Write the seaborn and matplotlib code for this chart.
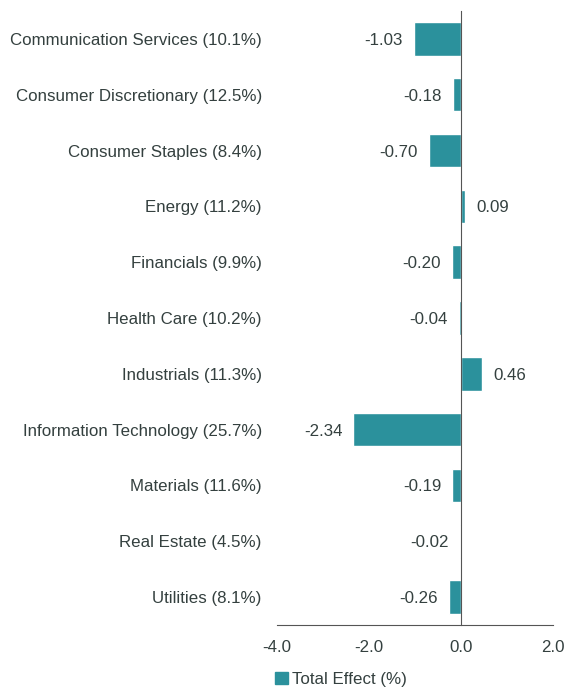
import pandas as pd
import seaborn as sns
import matplotlib.pyplot as plt
from matplotlib.patches import Patch

sectors = ["Communication Services", "Consumer Discretionary", "Consumer Staples",
           "Energy", "Financials", "Health Care", "Industrials",
           "Information Technology", "Materials", "Real Estate", "Utilities"]
weights = [10.1, 12.5, 8.4, 11.2, 9.9, 10.2, 11.3, 25.7, 11.6, 4.5, 8.1]
total_effect = [-1.03, -0.18, -0.70, 0.09, -0.20, -0.04, 0.46, -2.34, -0.19, -0.02, -0.26]
x_ticks = [-4.0, -2.0, 0.0, 2.0]

BAR = "#2b919c"
TXT = "#34403f"
AXC = "#555555"
FS = 12.2

labels = [f"{s} ({w}%)" for s, w in zip(sectors, weights)]
df = pd.DataFrame({"label": labels, "effect": total_effect})

sns.set_style("white")
plt.rcParams["font.family"] = ["Liberation Sans", "DejaVu Sans"]

fig = plt.figure(figsize=(5.68, 6.87), dpi=100)
ax = fig.add_axes([0.4877, 0.0902, 0.4859, 0.8938])

sns.barplot(data=df, x="effect", y="label", orient="h", color=BAR,
            saturation=1, width=0.6, ax=ax)

ax.set_xlim(-4, 2)
ax.set_ylim(len(labels) - 0.5, -0.5)
ax.set_xticks(x_ticks)
ax.set_xticklabels([f"{t:.1f}" for t in x_ticks], color=TXT, fontsize=FS)
ax.tick_params(axis="x", length=5, width=1, color=AXC, pad=6)

# y axis drawn at zero, ticks between categories
ax.spines["left"].set_position(("data", 0))
ax.spines["left"].set_color(AXC)
ax.spines["bottom"].set_color(AXC)
ax.spines["top"].set_visible(False)
ax.spines["right"].set_visible(False)
ax.set_yticks([i - 0.5 for i in range(len(labels) + 1)])
ax.set_yticklabels([])
ax.tick_params(axis="y", length=4, width=1, color=AXC, direction="out")
ax.set_xlabel("")
ax.set_ylabel("")

for i, lab in enumerate(labels):
    ax.text(-0.055, i, lab, transform=ax.get_yaxis_transform(),
            ha="right", va="center_baseline", fontsize=FS, color=TXT)

texts = ax.bar_label(ax.containers[0], fmt="%.2f", padding=8, fontsize=FS, color=TXT)
for t in texts:
    t.set_va("center_baseline")

fig.legend(handles=[Patch(color=BAR, label="Total Effect (%)")],
           loc="center left", bbox_to_anchor=(0.47, 0.011), frameon=False,
           handlelength=0.75, handleheight=0.75, handletextpad=0.25,
           fontsize=FS, labelcolor=TXT, borderpad=0)

fig.savefig("out.png", dpi=100)
